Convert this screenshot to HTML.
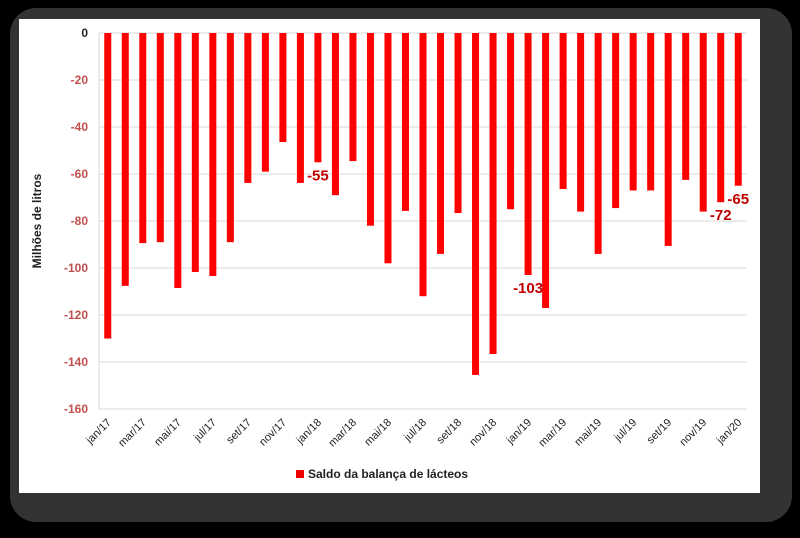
<!DOCTYPE html>
<html><head><meta charset="utf-8"><style>
body{margin:0;background:#000;width:800px;height:533px;overflow:hidden;font-family:"Liberation Sans",sans-serif}
</style></head><body>
<svg width="800" height="533" id="svg">
<rect x="10" y="8" width="782" height="514" rx="26" fill="#333"/>
<rect x="19" y="19" width="741" height="474" fill="#fff"/>
<text transform="translate(41,221) rotate(-90)" text-anchor="middle" font-size="12" font-weight="bold" fill="#222">Milhões de litros</text>
<rect x="296" y="470" width="8" height="8" fill="#e00"/>
<text x="308" y="478" font-size="12" font-weight="bold" fill="#222">Saldo da balança de lácteos</text>
</svg>
<script>
const categories=["jan/17","fev/17","mar/17","abr/17","mai/17","jun/17","jul/17","ago/17","set/17","out/17","nov/17","dez/17","jan/18","fev/18","mar/18","abr/18","mai/18","jun/18","jul/18","ago/18","set/18","out/18","nov/18","dez/18","jan/19","fev/19","mar/19","abr/19","mai/19","jun/19","jul/19","ago/19","set/19","out/19","nov/19","dez/19","jan/20"];
const values=[-130,-107.6,-89.4,-89,-108.5,-101.7,-103.4,-89,-63.8,-59,-46.4,-63.8,-55,-69,-54.5,-82,-98,-75.7,-112,-94,-76.6,-145.5,-136.6,-75,-103,-117,-66.4,-76,-94,-74.5,-67,-67,-90.6,-62.5,-76,-72,-65];
const yTicks=[0,-20,-40,-60,-80,-100,-120,-140,-160];
const labeled=["jan/18","jan/19","dez/19","jan/20"];
const NS="http://www.w3.org/2000/svg",svg=document.getElementById('svg');
const X0=99,X1=747,Y0=33,Y1=409;
const step=(X1-X0)/categories.length;
const x=i=>X0+step*(i+0.5);
const y=v=>Y0+(0-v)/160*(Y1-Y0);
function mk(t,a){const e=document.createElementNS(NS,t);for(const k in a)e.setAttribute(k,a[k]);svg.appendChild(e);return e;}
yTicks.forEach(t=>{
 const l=mk('line',{x1:X0,x2:X1,y1:y(t),y2:y(t),stroke:'#d9d9d9','stroke-width':1});
 
 
 const tx=mk('text',{x:X0-11,y:y(t)+4,'text-anchor':'end','font-size':12,'font-weight':'bold',fill:t===0?'#222':'#c0504d'});
 tx.textContent=t;
 
 
});
const ax=mk('line',{x1:X0,x2:X0,y1:Y0,y2:Y1,stroke:'#d9d9d9'});


values.forEach((v,i)=>{
 const b=mk('rect',{x:x(i)-3.5,y:y(0),width:7,height:y(v)-y(0),fill:'#f00'});
 
 
 if(i%2===0){
  const tx=mk('text',{'font-size':11,fill:'#222','text-anchor':'end',transform:`translate(${x(i)+4},${Y1+14}) rotate(-45)`});
  tx.textContent=categories[i];
  
  
 }
 if(labeled.includes(categories[i])){
  const lb=mk('text',{x:x(i),y:y(v)+18,'text-anchor':'middle','font-size':15,'font-weight':'bold',fill:'#c00000'});
  lb.textContent=Math.round(v);
  
  
 }
});
</script>
</body></html>
